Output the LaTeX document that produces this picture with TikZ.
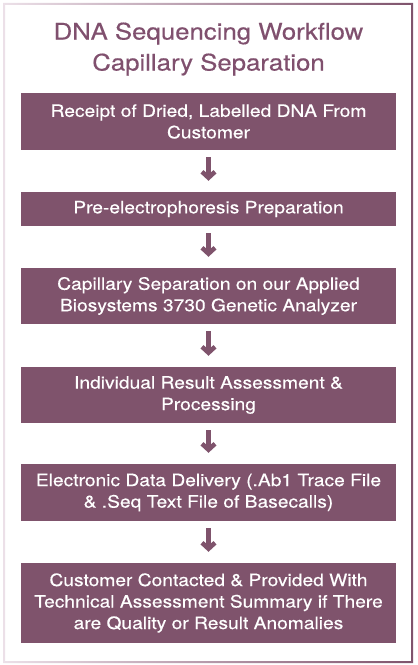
\documentclass[tikz,border=0pt]{standalone}
\usepackage{fontspec}
\setmainfont{TeX Gyre Heros}[FakeStretch=1.13, FakeBold=0.4]
\usetikzlibrary{arrows.meta}

\definecolor{stepcol}{RGB}{127,83,108}
\definecolor{titlecol}{RGB}{128,80,110}
\definecolor{framelight}{RGB}{236,224,232}

\tikzset{
  stepbox/.style={fill=stepcol, text=white, align=center, inner sep=0pt,
    minimum width=375bp, font=\fontsize{17bp}{21.5bp}\selectfont},
  flow/.style={stepcol, line width=5bp, shorten <=7bp, shorten >=11bp,
    -{Straight Barb[length=6bp, width=13bp, line width=4.5bp]}}
}

\begin{document}
\begin{tikzpicture}[x=1bp, y=-1bp]
    \useasboundingbox (0,0) rectangle (417,665);
    % Outer frame
    \shade[even odd rule, left color=framelight, right color=stepcol]
        (3,3) rectangle (413,663) (5,5) rectangle (411,661);

    % Title
    \node[titlecol, align=center, font=\fontsize{22.8bp}{31bp}\selectfont] (title) at (208.5,49)
        {DNA Sequencing Workflow\\Capillary Separation};

    % Workflow steps
    \node[stepbox, minimum height=57bp] (receipt) at (208.5,121.5)
        {Receipt of Dried, Labelled DNA From\\Customer};
    \node[stepbox, minimum height=34bp] (prep) at (208.5,209)
        {Pre-electrophoresis Preparation};
    \node[stepbox, minimum height=56bp] (separation) at (208.5,296)
        {Capillary Separation on our Applied\\Biosystems 3730 Genetic Analyzer};
    \node[stepbox, minimum height=56bp] (assess) at (208.5,395)
        {Individual Result Assessment \&\\Processing};
    \node[stepbox, minimum height=57bp] (delivery) at (208.5,492.5)
        {Electronic Data Delivery (.Ab1 Trace File\\\& .Seq Text File of Basecalls)};
    \node[stepbox, minimum height=80bp] (contact) at (208.5,603)
        {Customer Contacted \& Provided With\\Technical Assessment Summary if There\\are Quality or Result Anomalies};

    % Arrows between steps
    \draw[flow] (receipt) -- (prep);
    \draw[flow] (prep) -- (separation);
    \draw[flow] (separation) -- (assess);
    \draw[flow] (assess) -- (delivery);
    \draw[flow] (delivery) -- (contact);
\end{tikzpicture}
\end{document}
